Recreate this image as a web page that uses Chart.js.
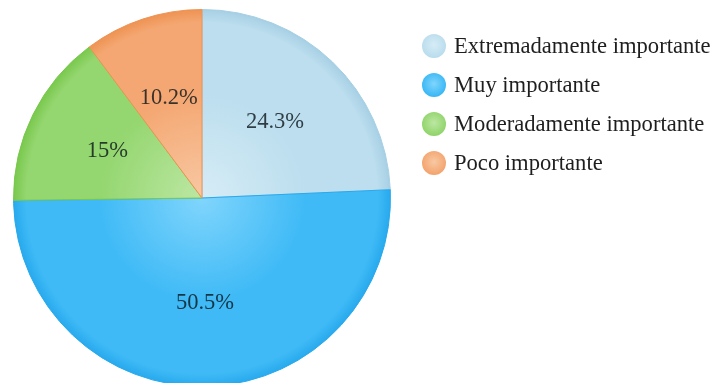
<html>
<head>
	<title>Importancia</title>
	<style>
		html, body {
			margin: 0;
			padding: 0;
			width: 722px;
			height: 383px;
			overflow: hidden;
			background: #fff;
		}

		#app {
			position: relative;
			width: 722px;
			height: 390px;
		}

		#legend {
			position: absolute;
			left: 422px;
			top: 26px;
			font-family: "Liberation Serif", "Times New Roman", serif;
			font-size: 22.6px;
			color: #1e1e1e;
		}

		#legend div {
			height: 39px;
			display: flex;
			align-items: center;
			white-space: nowrap;
		}

		#legend span {
			display: inline-block;
			width: 24px;
			height: 24px;
			border-radius: 50%;
			margin-right: 8px;
		}
	</style>
</head>
<body>

	<div id="app">
		<canvas id="pieCanvas" width="722" height="390"></canvas>
		<div id="legend"></div>
	</div>

	<script src="https://cdn.jsdelivr.net/npm/chart.js@4/dist/chart.umd.min.js"></script>
	<script>
		var labels = ['Extremadamente importante', 'Muy importante', 'Moderadamente importante', 'Poco importante'];
		var values = [24.3, 50.5, 15, 10.2];

		// light centre / base / rim for each slice
		var innerColors = ['#d6ecf6', '#80d5fc', '#bce7a3', '#f8c8a3'];
		var baseColors  = ['#bcdeee', '#3fbaf6', '#94d66f', '#f4a772'];
		var rimColors   = ['#a6cfe4', '#27a9ed', '#78c84c', '#ee9252'];

		var radialFill = function (c) {
			var i = c.dataIndex;
			var area = c.chart.chartArea;
			if (!area) return baseColors[i];
			var cx = (area.left + area.right) / 2;
			var cy = (area.top + area.bottom) / 2;
			var r = Math.min(area.right - area.left, area.bottom - area.top) / 2;
			var g = c.chart.ctx.createRadialGradient(cx, cy, 0, cx, cy, r);
			g.addColorStop(0, innerColors[i]);
			g.addColorStop(0.55, baseColors[i]);
			g.addColorStop(0.93, baseColors[i]);
			g.addColorStop(1, rimColors[i]);
			return g;
		};

		// percentage text inside each slice
		var sliceLabels = {
			id: 'sliceLabels',
			afterDatasetsDraw: function (chart) {
				var ctx = chart.ctx;
				var arcs = chart.getDatasetMeta(0).data;
				ctx.save();
				ctx.font = '22.5px "Liberation Serif", serif';
				ctx.fillStyle = 'rgba(10, 20, 25, 0.8)';
				ctx.textAlign = 'center';
				ctx.textBaseline = 'middle';
				arcs.forEach(function (arc, i) {
					var p = arc.getProps(['x', 'y', 'startAngle', 'endAngle', 'outerRadius'], true);
					var mid = (p.startAngle + p.endAngle) / 2;
					var d = p.outerRadius * 0.56;
					ctx.fillText(values[i] + '%', p.x + Math.cos(mid) * d, p.y + Math.sin(mid) * d);
				});
				ctx.restore();
			}
		};

		var ctx = document.getElementById('pieCanvas').getContext('2d');
		var myChart = new Chart(ctx, {
			type: 'pie',
			data: {
				labels: labels,
				datasets: [{
					data: values,
					backgroundColor: radialFill,
					borderColor: rimColors,
					borderWidth: 1
				}]
			},
			options: {
				responsive: false,
				animation: false,
				layout: { padding: { left: 13, right: 331, top: 9, bottom: 3 } },
				plugins: {
					legend: { display: false },
					tooltip: { enabled: false }
				}
			},
			plugins: [sliceLabels]
		});

		var legend = document.getElementById('legend');
		labels.forEach(function (name, i) {
			var row = document.createElement('div');
			var dot = document.createElement('span');
			dot.style.background = 'radial-gradient(circle at 50% 45%, ' + innerColors[i] + ' 0%, ' + baseColors[i] + ' 65%, ' + rimColors[i] + ' 100%)';
			row.appendChild(dot);
			row.appendChild(document.createTextNode(name));
			legend.appendChild(row);
		});
	</script>
</body>
</html>
